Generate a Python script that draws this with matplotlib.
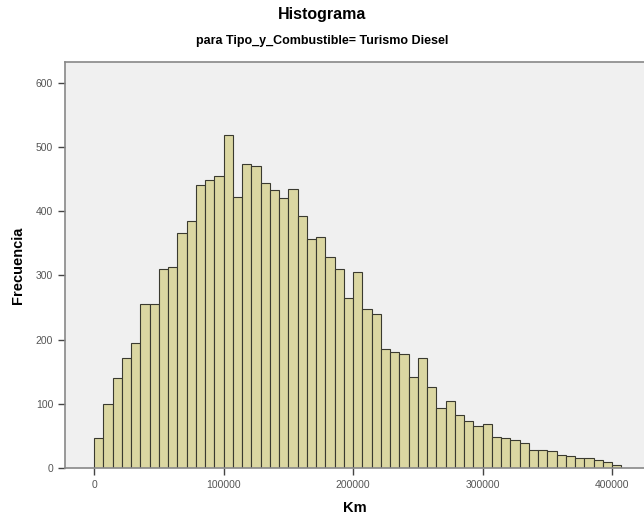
import numpy as np
import matplotlib.pyplot as plt

plt.rcParams['font.family'] = ['Liberation Sans', 'DejaVu Sans']

# bin width: 14 bars per 100000 km
bin_start = 0
bin_width = 100000 / 14
counts = [46, 99, 140, 172, 195, 255, 255, 310, 313, 366,
          384, 440, 449, 454, 518, 422, 474, 470, 444, 432,
          420, 435, 393, 357, 359, 328, 310, 264, 305, 248,
          240, 186, 180, 177, 142, 171, 126, 94, 104, 82,
          73, 65, 69, 49, 46, 43, 39, 28, 28, 26,
          21, 19, 16, 15, 13, 10, 4]
xticks = [0, 100000, 200000, 300000, 400000]
yticks = [0, 100, 200, 300, 400, 500, 600]

fig = plt.figure(figsize=(6.44, 5.15), dpi=100)
ax = fig.add_axes([65 / 644, 47 / 515, 579 / 644, 406 / 515])
ax.set_facecolor('#f0f0f0')

left = bin_start + np.arange(len(counts)) * bin_width
ax.bar(left, counts, width=bin_width, align='edge',
       color='#dbd7a2', edgecolor='#3a3a30', linewidth=0.8)

ax.set_xlim(-22400, 424700)
ax.set_ylim(0, 632)
ax.set_xticks(xticks)
ax.set_xticklabels([str(t) for t in xticks])
ax.set_yticks(yticks)
ax.tick_params(axis='both', labelsize=7.5, labelcolor='#555555',
               color='#444444', length=5, width=1, direction='out')

for s in ['left', 'bottom', 'top']:
    ax.spines[s].set_color('#888888')
    ax.spines[s].set_linewidth(1.2)
ax.spines['right'].set_visible(False)

ax.set_xlabel('Km', fontsize=10.5, fontweight='bold', labelpad=8)
ax.set_ylabel('Frecuencia', fontsize=10.5, fontweight='bold', labelpad=8)

fig.text(0.5, 1 - 14 / 515, 'Histograma', ha='center', va='center',
         fontsize=11.5, fontweight='bold')
fig.text(0.5, 1 - 41 / 515, 'para Tipo_y_Combustible= Turismo Diesel',
         ha='center', va='center', fontsize=9, fontweight='bold')

fig.savefig('out.png', dpi=100)
